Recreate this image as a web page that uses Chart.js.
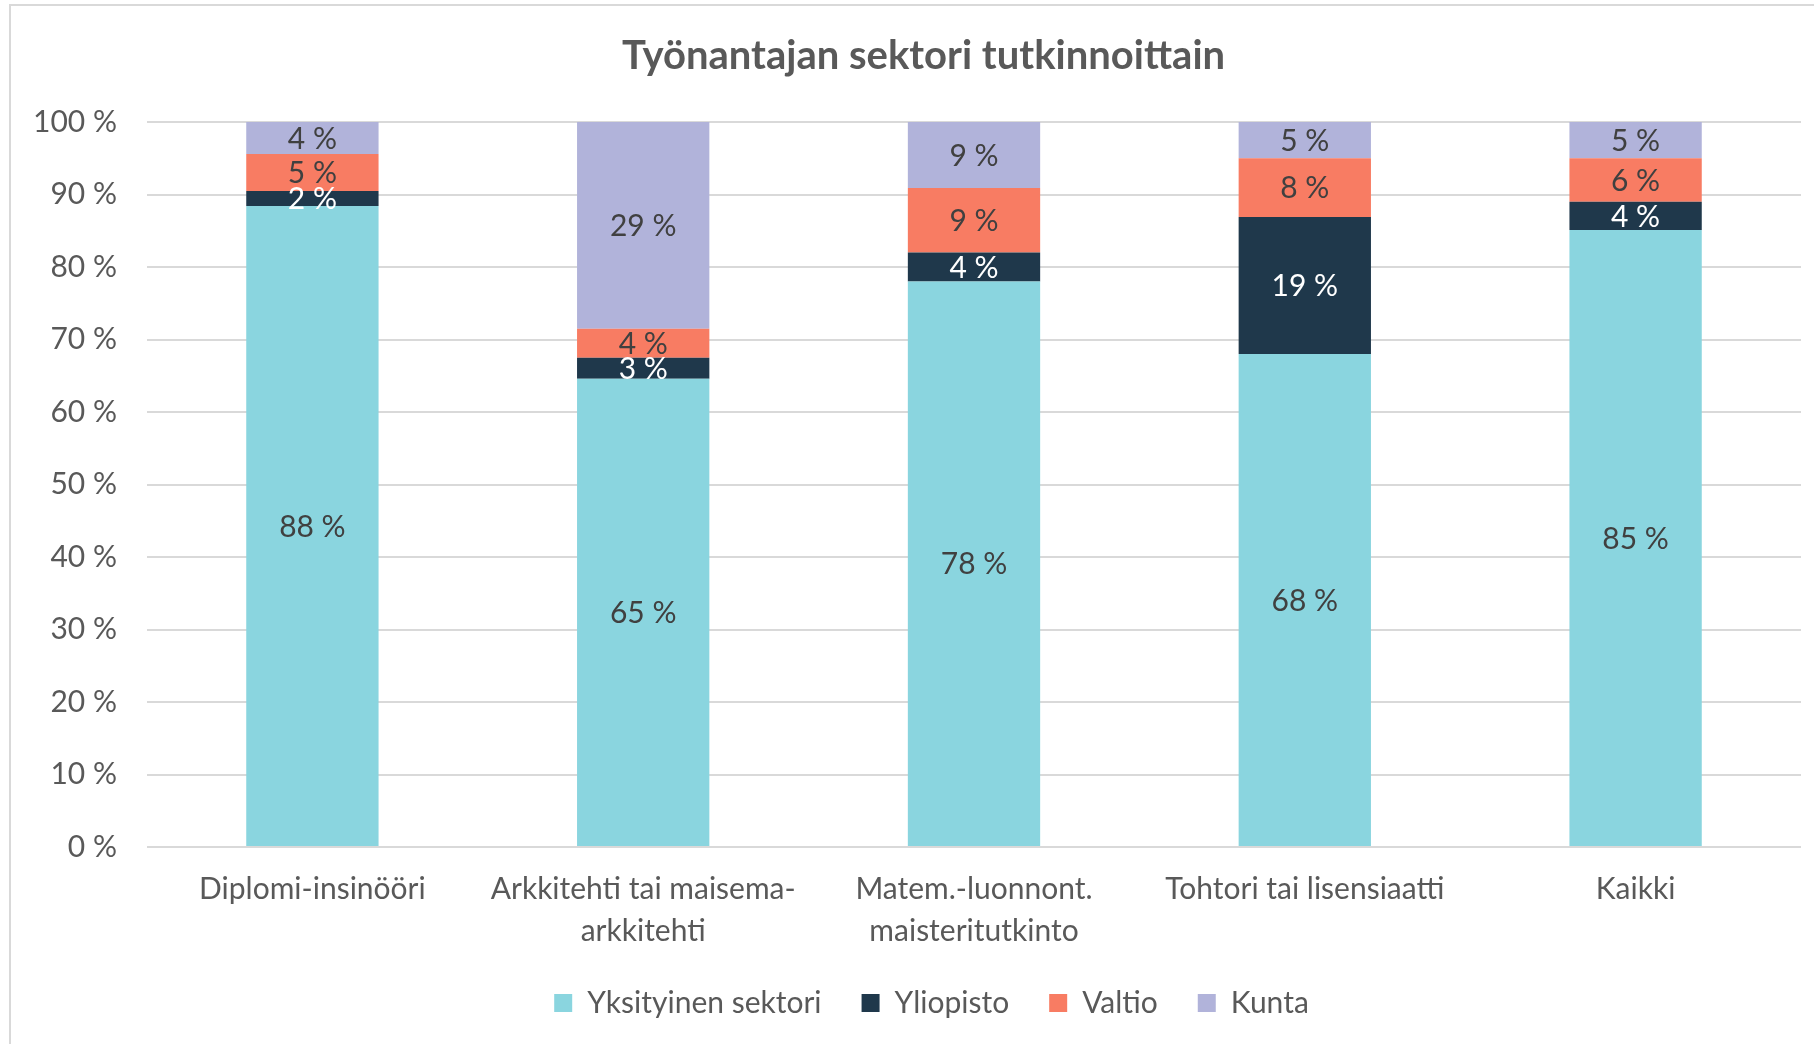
<!DOCTYPE html>
<html>
<head>
<meta charset="utf-8">
<script src="https://cdn.jsdelivr.net/npm/chart.js@4.4.1/dist/chart.umd.min.js"></script>
<style>
    html, body { margin: 0; padding: 0; background: #fff; }
    canvas { display: block; }
</style>
</head>
<body>
<canvas id="myChart1" width="1814" height="1044"></canvas>
<script>
const labels = [
    'Diplomi-insinööri',
    ['Arkkitehti tai maisema-', 'arkkitehti'],
    ['Matem.-luonnont.', 'maisteritutkinto'],
    'Tohtori tai lisensiaatti',
    'Kaikki',
];

// osuudet prosentteina
const yksityinen = [88.4, 64.6, 78.0, 68.0, 85.1];
const yliopisto = [2.1, 2.9, 4.0, 18.9, 3.9];
const valtio = [5.1, 4.0, 8.9, 8.1, 6.0];
const kunta = [4.4, 28.5, 9.1, 5.0, 5.0];

const yTicks = [0, 10, 20, 30, 40, 50, 60, 70, 80, 90, 100];

const font = 'Lato';

const data = {
    labels: labels,
    datasets: [
    {
        label: 'Yksityinen sektori',
        data: yksityinen,
        backgroundColor: '#8AD5DF',
        labelColor: '#404040',
    },
    {
        label: 'Yliopisto',
        data: yliopisto,
        backgroundColor: '#1F384B',
        labelColor: '#FFFFFF',
    },
    {
        label: 'Valtio',
        data: valtio,
        backgroundColor: '#F87C63',
        labelColor: '#404040',
    },
    {
        label: 'Kunta',
        data: kunta,
        backgroundColor: '#B1B3DA',
        labelColor: '#404040',
    }
]
};

// arvot palkkien keskelle
const barLabels = {
    id: 'barLabels',
    afterDatasetsDraw(chart) {
        const ctx = chart.ctx;
        ctx.save();
        ctx.font = '30px ' + font;
        ctx.textAlign = 'center';
        ctx.textBaseline = 'middle';
        chart.data.datasets.forEach((ds, i) => {
            chart.getDatasetMeta(i).data.forEach((bar, j) => {
                const p = bar.getProps(['x', 'y', 'base'], true);
                ctx.fillStyle = ds.labelColor;
                ctx.fillText(Math.round(ds.data[j]) + ' %', p.x, (p.y + p.base) / 2 + 1);
            });
        });
        ctx.restore();
    }
};

// kaavion kehys
const frame = {
    id: 'frame',
    beforeDraw(chart) {
        const ctx = chart.ctx;
        ctx.save();
        ctx.strokeStyle = '#D9D9D9';
        ctx.lineWidth = 2;
        ctx.strokeRect(10, 5, 3000, 3000);
        ctx.restore();
    }
};

const legendHeight = {
    id: 'legendHeight',
    afterInit(chart) {
        const fit = chart.legend.fit;
        chart.legend.fit = function () {
            fit.call(this);
            this.height = 96;
        };
    },
    // otsikko ja selite hieman oikealle, kuten alkuperäisessä
    afterLayout(chart) {
        chart.titleBlock.left += 7;
        chart.titleBlock.right += 7;
        chart.legend.left += 15;
        chart.legend.right += 15;
    }
};

const config = {
    type: 'bar',
    data: data,
    options: {
    responsive: false,
    animation: false,
    layout: {
        padding: { left: 32, right: 13, top: 0, bottom: 0 }
    },
    datasets: {
        bar: {
        barPercentage: 0.4,
        categoryPercentage: 1.0,
        }
    },
    scales: {
        x: {
        stacked: true,
        grid: { display: false, drawTicks: false },
        border: { display: false },
        ticks: {
            color: '#595959',
            font: { family: font, size: 30, lineHeight: 1.38 },
            padding: 22,
            maxRotation: 0,
            autoSkip: false,
        },
        afterFit(scale) { scale.height = 101; }
        },
        y: {
        stacked: true,
        min: 0,
        max: 100,
        afterBuildTicks(scale) { scale.ticks = yTicks.map(v => ({ value: v })); },
        grid: { color: '#D9D9D9', lineWidth: 2, drawTicks: false },
        border: { display: false },
        ticks: {
            color: '#595959',
            font: { family: font, size: 30 },
            padding: 30,
            callback: v => v + ' %',
        },
        afterFit(scale) { scale.width = 115; }
        }
    },
    plugins: {
        legend: {
        position: 'bottom',
        labels: {
            color: '#595959',
            font: { family: font, size: 30 },
            boxWidth: 18,
            boxHeight: 18,
            padding: 40,
        }
        },
        title: {
        display: true,
        text: 'Työnantajan sektori tutkinnoittain',
        color: '#595959',
        font: { family: font, size: 40, weight: 'bold' },
        padding: { top: 32, bottom: 42 }
        },
        tooltip: { enabled: false }
    }
    },
    plugins: [frame, barLabels, legendHeight]
};

const myChart = new Chart(
    document.querySelector('#myChart1'),
    config
);
</script>
</body>
</html>
